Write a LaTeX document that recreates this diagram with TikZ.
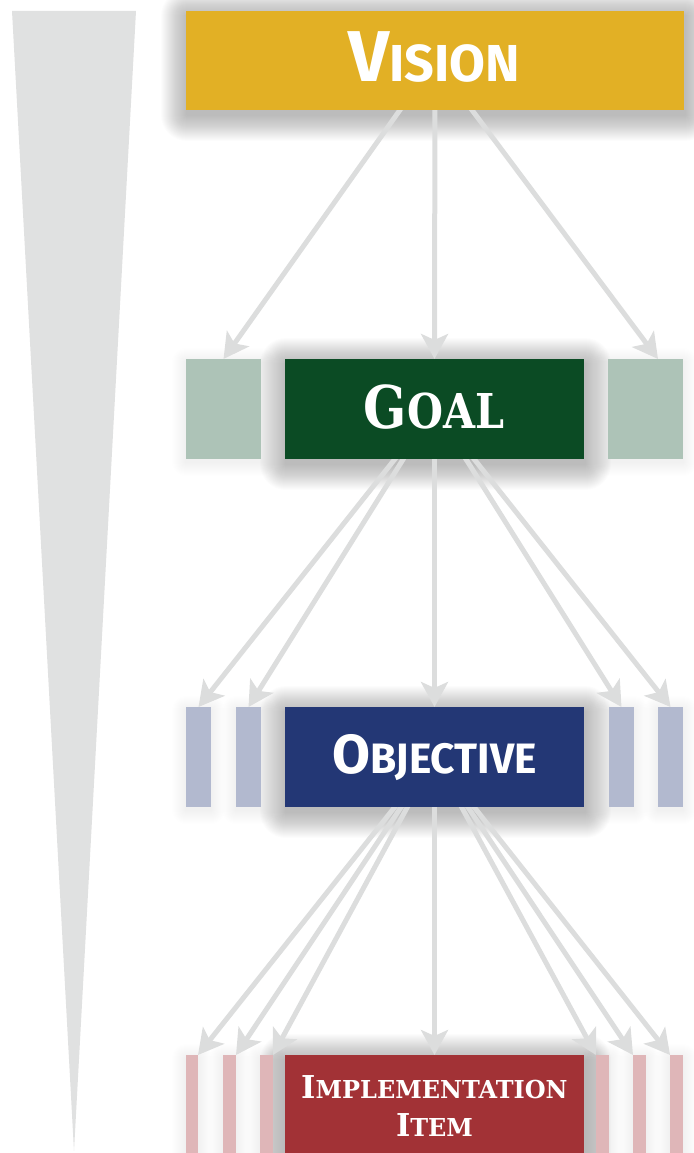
\documentclass[tikz,border=0pt]{standalone}
\usepackage{fontspec}
\newfontfamily\hsans{Fira Sans}
\newfontfamily\hslab{DejaVu Serif}
\usetikzlibrary{arrows.meta,calc}
\pgfdeclarelayer{bg}\pgfdeclarelayer{shad}
\pgfsetlayers{shad,bg,main}
\definecolor{visC}{HTML}{E2B025}
\definecolor{goalC}{HTML}{0B4B24}
\definecolor{goalL}{HTML}{ADC3B7}
\definecolor{objC}{HTML}{233775}
\definecolor{objL}{HTML}{B2B9CF}
\definecolor{impC}{HTML}{A23236}
\definecolor{impL}{HTML}{DFB6B8}
\definecolor{triC}{HTML}{E0E1E1}
\definecolor{arrC}{HTML}{DCDDDD}
\tikzset{
  box/.style={rectangle, inner sep=0pt, outer sep=0pt, draw=none},
  lbl/.style={inner sep=0pt, outer sep=0pt, text=white, anchor=base},
  arr/.style={draw=arrC, line width=5pt, -{Stealth[length=25pt,width=27pt,inset=6pt]}},
}
\newcommand{\mkshadow}[5]{% node, opacity, steps, dx, dy
  \begin{pgfonlayer}{shad}
  \foreach \r in {1,...,#3}{
    \fill[black, opacity=#2, rounded corners=\r pt]
      ($(#1.north west)+(#4-\r,#5-\r)$) rectangle ($(#1.south east)+(#4+\r,#5+\r)$);
  }
  \end{pgfonlayer}}
\begin{document}
\begin{tikzpicture}[x=1pt,y=-1pt]
\useasboundingbox (0,0) rectangle (693,1153);
\fill[triC] (12,11) -- (136,11) -- (74,1151) -- cycle;

% boxes
\node[box, fill=visC, minimum width=498pt, minimum height=99pt] (vision) at (435,60.5) {};
\node[box, fill=goalC, minimum width=299pt, minimum height=100pt] (goal) at (434.5,409) {};
\node[box, fill=goalL, minimum width=75pt, minimum height=100pt] (g1) at (223.5,409) {};
\node[box, fill=goalL, minimum width=75pt, minimum height=100pt] (g3) at (645.5,409) {};
\node[box, fill=objC, minimum width=299pt, minimum height=100pt] (obj) at (434.5,757) {};
\node[box, fill=objL, minimum width=25pt, minimum height=100pt] (o1) at (198.5,757) {};
\node[box, fill=objL, minimum width=25pt, minimum height=100pt] (o2) at (248.5,757) {};
\node[box, fill=objL, minimum width=25pt, minimum height=100pt] (o4) at (621.5,757) {};
\node[box, fill=objL, minimum width=25pt, minimum height=100pt] (o5) at (670.5,757) {};
\node[box, fill=impC, minimum width=299pt, minimum height=100pt] (imp) at (434.5,1105) {};
\node[box, fill=impL, minimum width=12pt, minimum height=100pt] (i1) at (192,1105) {};
\node[box, fill=impL, minimum width=13pt, minimum height=100pt] (i2) at (229.5,1105) {};
\node[box, fill=impL, minimum width=13pt, minimum height=100pt] (i3) at (266.5,1105) {};
\node[box, fill=impL, minimum width=13pt, minimum height=100pt] (i5) at (602.5,1105) {};
\node[box, fill=impL, minimum width=13pt, minimum height=100pt] (i6) at (639.5,1105) {};
\node[box, fill=impL, minimum width=13pt, minimum height=100pt] (i7) at (676.5,1105) {};

% shadows
\mkshadow{vision}{0.011}{26}{1}{5}
\mkshadow{goal}{0.011}{26}{1}{5}
\mkshadow{obj}{0.011}{26}{1}{5}
\mkshadow{imp}{0.011}{26}{1}{5}
\foreach \n in {g1,g3,o1,o2,o4,o5,i1,i2,i3,i5,i6,i7}{\mkshadow{\n}{0.004}{14}{0}{3}}

% labels
\node[lbl] (tvision) at (434.5,82) {\hsans\bfseries\fontsize{72}{72}\selectfont V\fontsize{52}{52}\selectfont ISION};
\node[lbl] (tgoal) at (434,428) {\scalebox{0.86}[1]{\hslab\bfseries\fontsize{59}{59}\selectfont G\fontsize{48}{48}\selectfont OAL}};
\node[lbl] (tobj) at (434.5,773) {\hsans\bfseries\fontsize{55}{55}\selectfont O\fontsize{42.5}{42.5}\selectfont BJECTIVE};
\node[lbl] (timp1) at (434.5,1098) {\scalebox{0.97}[1]{\hslab\bfseries\fontsize{31.5}{31.5}\selectfont I\fontsize{24.7}{24.7}\selectfont MPLEMENTATION}};
\node[lbl] (timp2) at (434.5,1136) {\scalebox{0.97}[1]{\hslab\bfseries\fontsize{31.5}{31.5}\selectfont I\fontsize{24.7}{24.7}\selectfont TEM}};

% connectors
\begin{pgfonlayer}{bg}
\draw[arr] (vision.center) -- (g1.north);
\draw[arr] (vision.center) -- (goal.north);
\draw[arr] (vision.center) -- ([xshift=12.5pt]g3.north);
\draw[arr] (goal.center) -- (o1.north);
\draw[arr] (goal.center) -- (o2.north);
\draw[arr] (goal.center) -- (obj.north);
\draw[arr] (goal.center) -- (o4.north);
\draw[arr] (goal.center) -- (o5.north);
\draw[arr] (obj.center) -- (i1.north east);
\draw[arr] (obj.center) -- (i2.north east);
\draw[arr] (obj.center) -- (i3.north east);
\draw[arr] (obj.center) -- (imp.north);
\draw[arr] (obj.center) -- (i5.north west);
\draw[arr] (obj.center) -- (i6.north west);
\draw[arr] (obj.center) -- (i7.north west);
\end{pgfonlayer}
\end{tikzpicture}
\end{document}
